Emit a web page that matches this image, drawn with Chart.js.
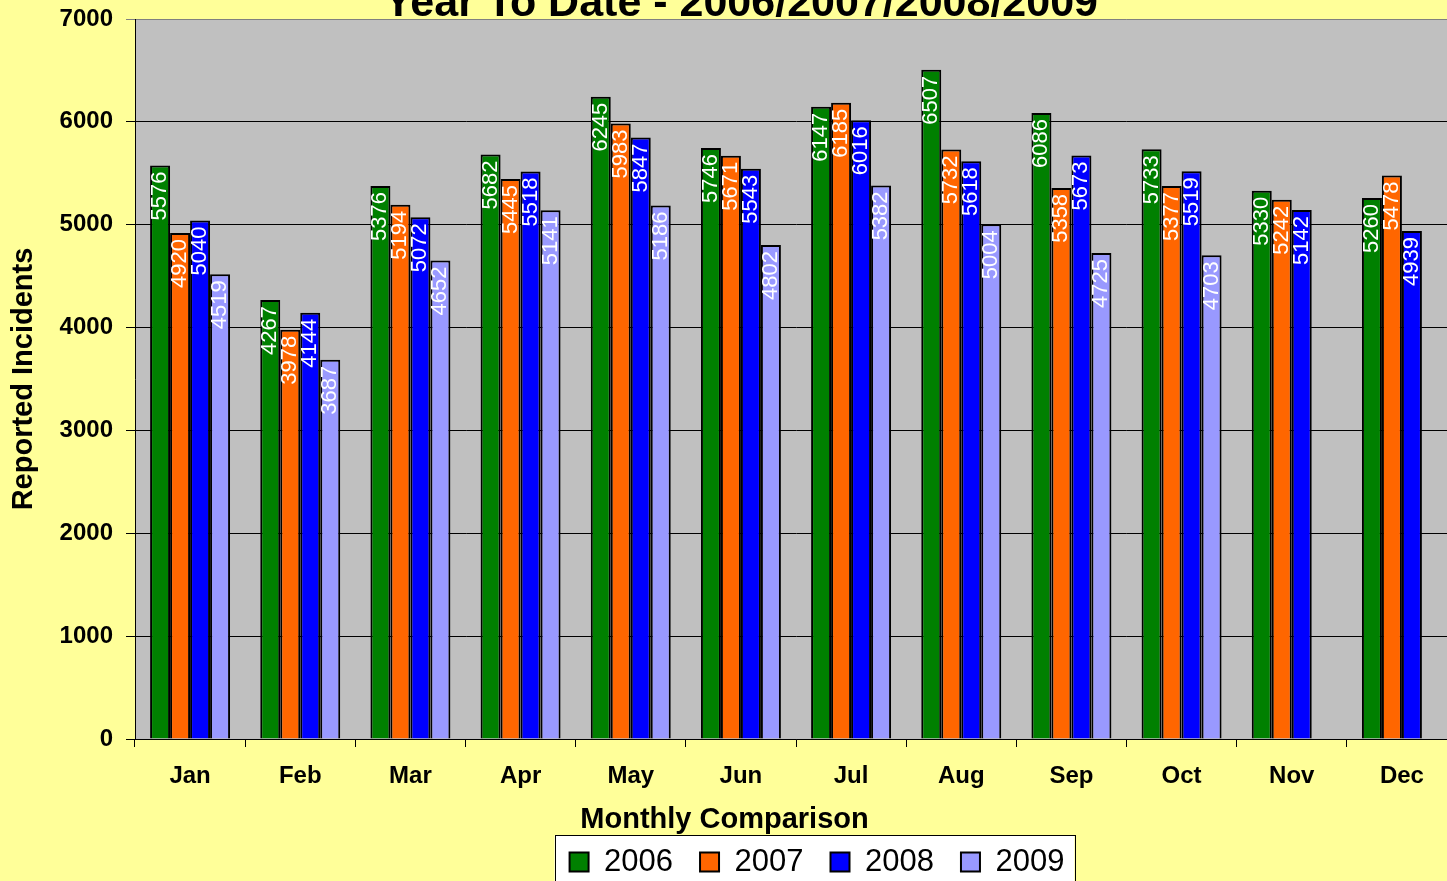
<!DOCTYPE html>
<html>
<head>
<meta charset="utf-8">
<title>Year To Date - 2006/2007/2008/2009</title>
<script src="https://cdn.jsdelivr.net/npm/chart.js@4.4.1/dist/chart.umd.min.js"></script>
<style>
  html, body { margin: 0; padding: 0; overflow: hidden; background: #FFFF99; }
  body { width: 1447px; height: 881px; position: relative; }
  #chart { position: absolute; left: 0; top: -40px; }
</style>
</head>
<body>
<canvas id="chart" width="1457" height="945"></canvas>
<script>
// ---- data ----
const months = ["Jan", "Feb", "Mar", "Apr", "May", "Jun", "Jul", "Aug", "Sep", "Oct", "Nov", "Dec"];
const years = ["2006", "2007", "2008", "2009"];

const incidents2006 = [5576, 4267, 5376, 5682, 6245, 5746, 6147, 6507, 6086, 5733, 5330, 5260];
const incidents2007 = [4920, 3978, 5194, 5445, 5983, 5671, 6185, 5732, 5358, 5377, 5242, 5478];
const incidents2008 = [5040, 4144, 5072, 5518, 5847, 5543, 6016, 5618, 5673, 5519, 5142, 4939];
const incidents2009 = [4519, 3687, 4652, 5141, 5186, 4802, 5382, 5004, 4725, 4703, null, null];

const yMin = 0;
const yMax = 7000;
const yStep = 1000;

const titleText = "Year To Date - 2006/2007/2008/2009";
const xTitleText = "Monthly Comparison";
const yTitleText = "Reported Incidents";

const colors = ["#008000", "#FF6600", "#0000FF", "#9999FF"];
const FONT = '"Liberation Sans", Arial, sans-serif';

// canvas sits 40px above the page top
const OFFSET_Y = 40;


// =======================================================
// BACKGROUND, PLOT AREA, LEGEND BOX, BAR LABELS
// =======================================================
const decorPlugin = {
    id: "decor",
    afterLayout(chart) {
        // nudge the text boxes to where they sit in the original
        const t = chart.titleBlock;
        const dt = 741 - (t.left + t.right) / 2;
        t.left += dt; t.right += dt;
        t.top += 7; t.bottom += 7;

        const sub = chart.boxes.find(b => b.options && b.options.text === xTitleText);
        if (sub) {
            const ds = 724.5 - (sub.left + sub.right) / 2;
            sub.left += ds; sub.right += ds;
        }

        const lg = chart.legend;
        const pad = lg.options.labels.padding;
        const fs = lg.options.labels.font.size;
        const dx = 817 - (lg.left + lg.right) / 2;
        const dy = (862 + OFFSET_Y) - (lg.top + pad + fs / 2);
        lg.left += dx; lg.right += dx;
        lg.top += dy; lg.bottom += dy;
    },
    beforeDraw(chart) {
        const ctx = chart.ctx;
        const a = chart.chartArea;
        ctx.save();
        ctx.fillStyle = "#FFFF99";
        ctx.fillRect(0, 0, chart.width, chart.height);
        ctx.fillStyle = "#C0C0C0";
        ctx.fillRect(a.left, a.top, a.right - a.left, a.bottom - a.top);

        const lg = chart.legend;
        const pad = lg.options.labels.padding;
        const fs = lg.options.labels.font.size;
        const lw = lg.lineWidths[0];
        const start = (lg.left + pad + lg.right - lw) / 2;
        const end = start + lw - pad;
        const cy = lg.top + pad + fs / 2;
        ctx.fillStyle = "#FFFFFF";
        ctx.strokeStyle = "#000000";
        ctx.lineWidth = 1;
        ctx.fillRect(start - 15, cy - 27, end - start + 25, 80);
        ctx.strokeRect(Math.round(start - 15) + 0.5, Math.round(cy - 27) + 0.5, Math.round(end - start + 25), 80);
        ctx.restore();
    },
    afterDatasetsDraw(chart) {
        const ctx = chart.ctx;
        ctx.save();
        ctx.font = "22px " + FONT;
        ctx.fillStyle = "#FFFFFF";
        ctx.textAlign = "right";
        ctx.textBaseline = "middle";
        chart.data.datasets.forEach((ds, i) => {
            const meta = chart.getDatasetMeta(i);
            meta.data.forEach((bar, j) => {
                const v = ds.data[j];
                if (v === null || v === undefined) return;
                ctx.save();
                ctx.translate(bar.x, bar.y + 6);
                ctx.rotate(-Math.PI / 2);
                ctx.fillText(String(v), 0, 0);
                ctx.restore();
            });
        });
        ctx.restore();
    }
};


// =======================================================
// CHART
// =======================================================
const series = [incidents2006, incidents2007, incidents2008, incidents2009];

new Chart(document.getElementById("chart"), {
    type: "bar",
    data: {
        labels: months,
        datasets: series.map((values, i) => ({
            label: years[i],
            data: values,
            backgroundColor: colors[i],
            borderColor: "#000000",
            borderWidth: 2,
            borderSkipped: "bottom",
            categoryPercentage: 0.726,
            barPercentage: 1.0
        }))
    },
    options: {
        responsive: false,
        animation: false,
        devicePixelRatio: 1,
        events: [],
        layout: { padding: { top: 16, left: 0, right: 0, bottom: 0 } },
        plugins: {
            tooltip: { enabled: false },
            title: {
                display: true,
                text: titleText,
                color: "#000000",
                font: { family: FONT, size: 43, weight: "bold", lineHeight: 1 },
                padding: 0
            },
            subtitle: {
                display: true,
                text: xTitleText,
                position: "bottom",
                weight: 500,
                color: "#000000",
                font: { family: FONT, size: 29, weight: "bold", lineHeight: 1.2 },
                padding: { top: 3.2, bottom: 0 }
            },
            legend: {
                position: "bottom",
                labels: {
                    color: "#000000",
                    font: { family: FONT, size: 31 },
                    boxWidth: 19,
                    boxHeight: 19,
                    padding: 27
                }
            }
        },
        scales: {
            x: {
                offset: true,
                afterFit: s => { s.height = 60; },
                grid: {
                    offset: true,
                    drawOnChartArea: false,
                    color: "#000000",
                    tickLength: 8
                },
                border: { color: "#000000", width: 1 },
                ticks: {
                    color: "#000000",
                    padding: 15,
                    font: { family: FONT, size: 24, weight: "bold" }
                }
            },
            y: {
                min: yMin,
                max: yMax,
                afterFit: s => { s.width = 135; },
                grid: {
                    color: c => (c.tick && c.tick.value === yMax ? "#808080" : "#000000"),
                    tickLength: 9
                },
                border: { color: "#000000", width: 1 },
                ticks: {
                    stepSize: yStep,
                    color: "#000000",
                    padding: 13,
                    font: { family: FONT, size: 24, weight: "bold" },
                    callback: v => String(v)
                },
                title: {
                    display: true,
                    text: yTitleText,
                    color: "#000000",
                    font: { family: FONT, size: 29, weight: "bold", lineHeight: 1.2 },
                    padding: { top: 7, bottom: 0 }
                }
            }
        }
    },
    plugins: [decorPlugin]
});
</script>
</body>
</html>
